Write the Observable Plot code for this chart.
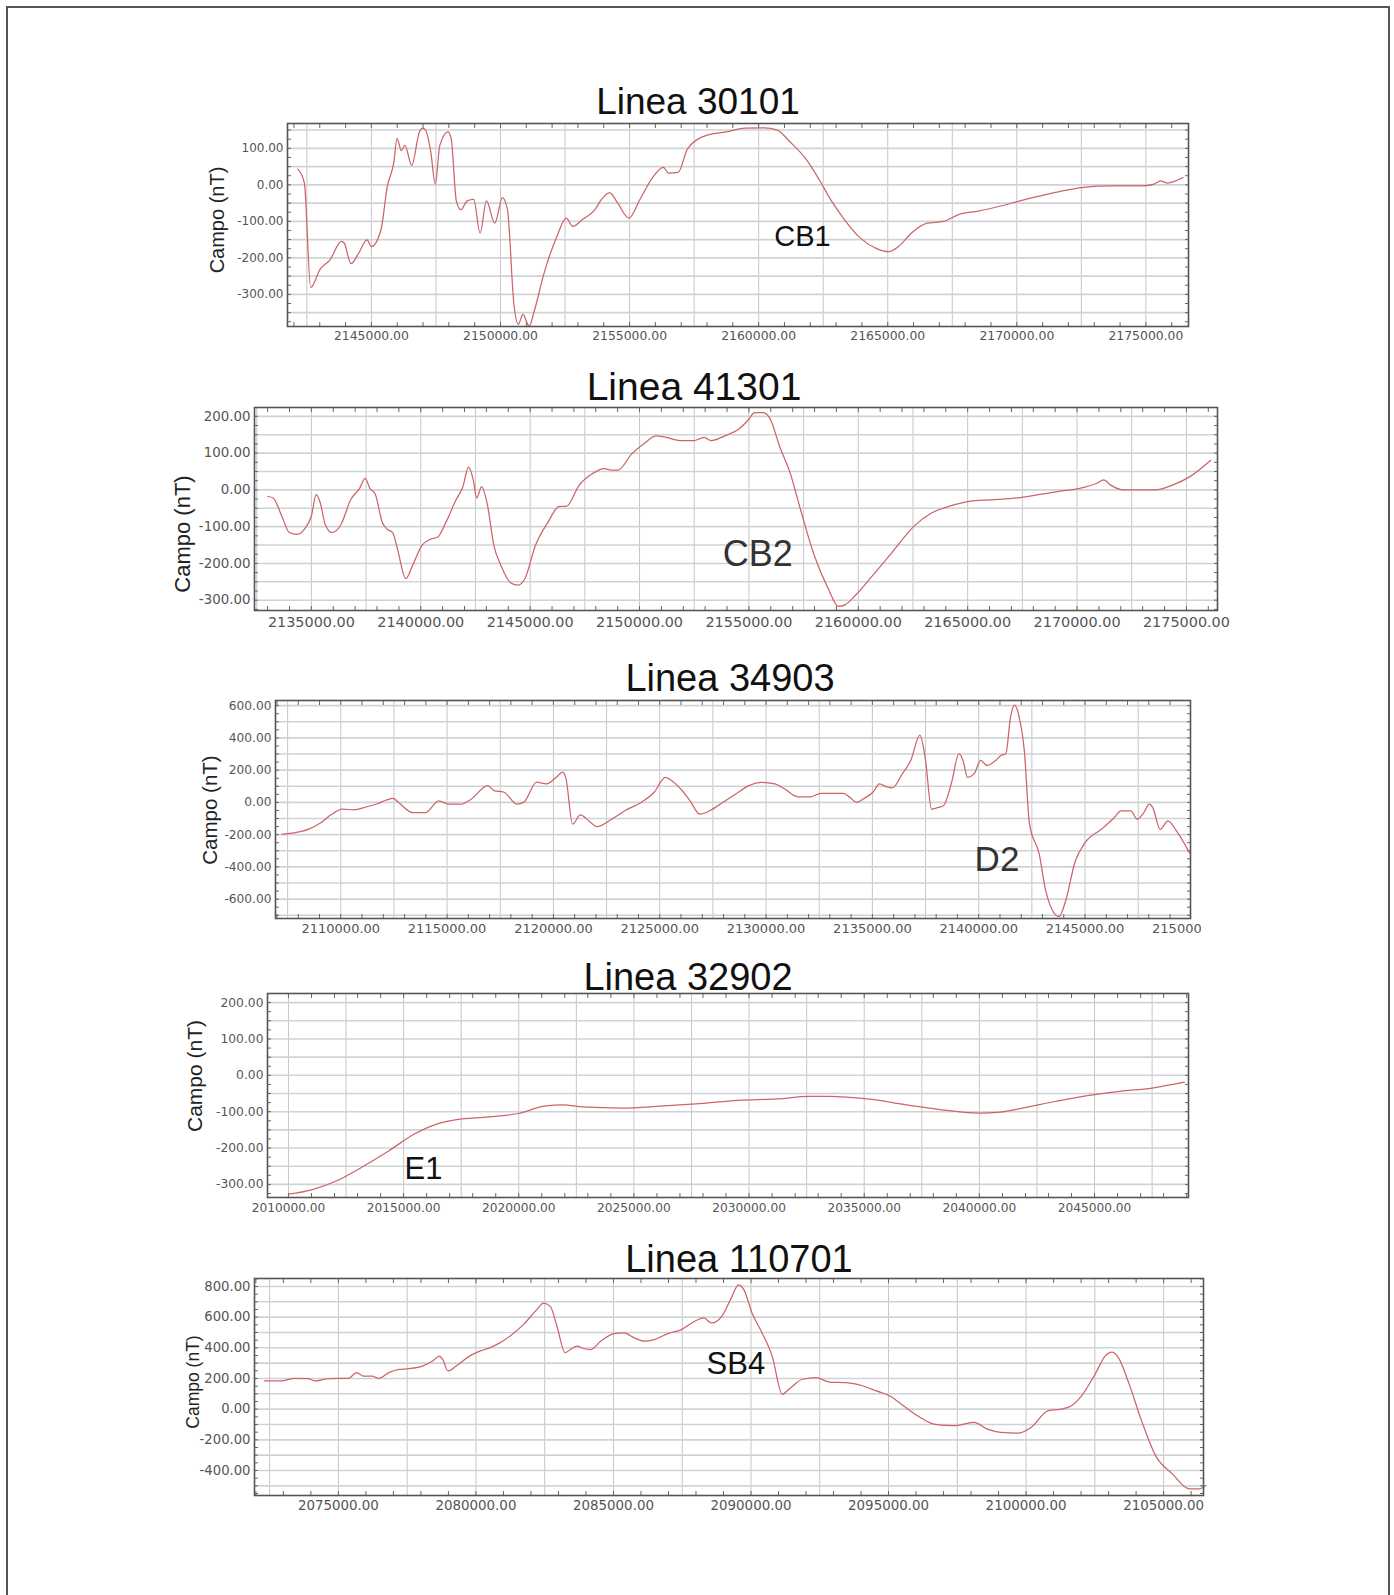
<!DOCTYPE html>
<html><head><meta charset="utf-8">
<script src="https://cdn.jsdelivr.net/npm/d3@7"></script>
<script src="https://cdn.jsdelivr.net/npm/@observablehq/plot@0.6"></script>
<style>
body{margin:0;background:#fff;font-family:"Liberation Sans",Arial,sans-serif;}
#page{position:relative;width:1394px;height:1595px;overflow:hidden;background:#fff;}
#border{position:absolute;left:6px;top:6px;width:1380px;height:1650px;border:2px solid #555;}
.title{position:absolute;transform:translate(-50%,-50%);color:#111;white-space:nowrap;font-family:"Liberation Sans",Arial,sans-serif;}
.ylab{position:absolute;transform:translate(-50%,-50%) rotate(-90deg);white-space:nowrap;color:#222;font-family:"Liberation Sans",Arial,sans-serif;}
</style></head><body><div id="page"><div id="border"></div></div>
<script>
// ---- Data (easting, field nT) ----
const line30101 = [[2142150,43],[2142400,6],[2142650,-281],[2143020,-230],[2143390,-206],[2143840,-155],[2143950,-160],[2144210,-216],[2144500,-188],[2144830,-151],[2145000,-169],[2145370,-123],[2145620,-3],[2145870,62],[2145990,127],[2146160,94],[2146300,108],[2146560,53],[2146860,145],[2146980,155],[2147100,150],[2147300,90],[2147475,2],[2147650,108],[2147970,145],[2148090,127],[2148290,-44],[2148465,-68],[2148710,-44],[2148960,-40],[2149210,-132],[2149455,-44],[2149780,-105],[2150075,-35],[2150270,-68],[2150520,-327],[2150690,-382],[2150870,-355],[2151110,-387],[2151310,-345],[2151680,-244],[2152180,-142],[2152550,-91],[2152800,-114],[2153170,-95],[2153660,-68],[2153910,-40],[2154230,-21],[2154530,-49],[2154975,-91],[2155400,-40],[2155890,20],[2156310,48],[2156510,32],[2156880,34],[2157250,99],[2158000,136],[2158740,145],[2159480,155],[2160220,156],[2160720,150],[2161210,118],[2161830,71],[2162330,16],[2162820,-44],[2163320,-95],[2163940,-146],[2164550,-174],[2165050,-183],[2165420,-169],[2165920,-132],[2166530,-105],[2167150,-100],[2167770,-81],[2168510,-72],[2169380,-58],[2170120,-44],[2170870,-31],[2171730,-17],[2172600,-7],[2173590,-3],[2174830,-3],[2175320,2],[2175570,11],[2175820,5],[2176440,20]];

const line41301 = [[2133016,-18],[2133250,-22],[2133646,-71],[2133992,-116],[2134370,-121],[2134685,-107],[2135000,-71],[2135220,-13],[2135410,-36],[2135630,-94],[2135945,-116],[2136354,-94],[2136795,-27],[2137205,4],[2137457,31],[2137677,4],[2137929,-13],[2138244,-89],[2138465,-107],[2138716,-116],[2138937,-161],[2139315,-241],[2139630,-205],[2140039,-152],[2140449,-134],[2140764,-129],[2141142,-89],[2141614,-27],[2141929,9],[2142181,62],[2142400,27],[2142559,-22],[2142780,9],[2143031,-36],[2143346,-152],[2143661,-205],[2144134,-254],[2144449,-259],[2144764,-241],[2145236,-152],[2145803,-89],[2146339,-45],[2146654,-45],[2147244,13],[2147874,45],[2148386,58],[2148700,54],[2149016,54],[2149646,98],[2150276,129],[2150748,147],[2151220,143],[2151850,134],[2152480,134],[2152953,143],[2153268,134],[2153898,147],[2154528,165],[2155000,192],[2155252,210],[2155630,210],[2155945,196],[2156417,116],[2156890,45],[2157362,-54],[2157992,-179],[2158622,-268],[2159094,-317],[2159409,-312],[2159882,-286],[2160669,-232],[2161614,-165],[2162559,-98],[2163346,-63],[2164134,-45],[2165079,-31],[2166024,-27],[2167283,-22],[2168228,-13],[2169173,-4],[2170118,4],[2170906,18],[2171220,27],[2171535,13],[2172165,0],[2173583,0],[2174370,13],[2175157,36],[2176102,80]];

const line34903 = [[2107237,-198],[2107851,-188],[2108465,-167],[2109079,-125],[2109539,-77],[2110092,-42],[2110614,-46],[2111228,-27],[2111689,-10],[2112149,15],[2112456,25],[2112763,-6],[2113377,-63],[2113991,-63],[2114605,10],[2115066,-10],[2115680,-10],[2116141,21],[2116908,104],[2117215,73],[2117676,63],[2118290,-10],[2118597,0],[2119211,125],[2119672,115],[2120132,156],[2120439,188],[2120593,146],[2120900,-135],[2121268,-77],[2121667,-115],[2122066,-150],[2122742,-104],[2123356,-52],[2124124,0],[2124738,63],[2125260,156],[2125659,125],[2126119,63],[2126426,10],[2126887,-73],[2127348,-52],[2127962,0],[2128576,52],[2129190,104],[2129804,125],[2130418,115],[2130878,83],[2131492,35],[2132106,35],[2132567,56],[2133181,56],[2133641,56],[2133949,31],[2134256,0],[2134563,21],[2135024,63],[2135331,115],[2135638,98],[2135944,90],[2136405,177],[2136804,260],[2137234,417],[2137480,281],[2137786,-42],[2138093,-31],[2138339,-21],[2138708,115],[2139076,302],[2139260,260],[2139475,156],[2139782,177],[2140089,260],[2140396,229],[2140795,260],[2141059,292],[2141274,302],[2141500,531],[2141684,604],[2141899,531],[2142144,323],[2142390,-135],[2142850,-323],[2143158,-552],[2143772,-708],[2144079,-615],[2144539,-365],[2145000,-250],[2145768,-167],[2146382,-94],[2146689,-52],[2147150,-52],[2147458,-104],[2147765,-63],[2148026,-10],[2148180,-31],[2148533,-167],[2148901,-115],[2149300,-177],[2149914,-313]];

const line32902 = [[2010000,-327],[2011000,-315],[2012100,-290],[2013200,-252],[2014350,-208],[2015500,-160],[2016500,-133],[2017300,-122],[2018550,-115],[2019970,-105],[2021100,-85],[2021940,-81],[2022780,-87],[2024470,-90],[2026150,-85],[2027840,-78],[2029520,-69],[2031210,-65],[2032610,-58],[2033460,-58],[2035140,-65],[2036830,-81],[2038510,-96],[2040000,-104],[2040900,-101],[2041880,-90],[2043290,-72],[2044690,-56],[2046100,-44],[2047500,-35],[2048900,-19]];

const line110701 = [[2072311,184],[2072920,184],[2073411,201],[2073900,199],[2074145,184],[2074633,199],[2075367,201],[2075660,238],[2075905,216],[2076222,216],[2076467,201],[2076834,238],[2077200,259],[2077567,264],[2078056,281],[2078423,314],[2078667,346],[2078790,324],[2078985,249],[2079279,281],[2079768,346],[2080134,378],[2080501,400],[2080868,432],[2081235,476],[2081724,551],[2082213,649],[2082457,692],[2082702,670],[2082946,541],[2083240,368],[2083435,389],[2083680,411],[2083924,394],[2084169,389],[2084535,443],[2085024,493],[2085391,497],[2085758,465],[2086125,443],[2086491,454],[2086980,493],[2087469,519],[2087958,573],[2088276,595],[2088570,562],[2088936,605],[2089254,714],[2089548,811],[2089743,778],[2090037,627],[2090403,497],[2090770,346],[2091137,97],[2091381,130],[2091870,195],[2092359,205],[2092848,177],[2093460,173],[2094071,151],[2094560,119],[2095049,86],[2095538,22],[2096149,-54],[2096638,-97],[2097372,-108],[2098105,-86],[2098594,-130],[2099083,-151],[2099694,-156],[2100183,-119],[2100795,-11],[2101284,0],[2101650,22],[2102017,86],[2102506,227],[2102873,346],[2103117,372],[2103362,335],[2103729,173],[2104218,-86],[2104707,-303],[2105318,-422],[2105929,-519],[2106296,-519],[2106540,-497]];

// ---- Tick labels ----
const xTicks30101 = [2145000,2150000,2155000,2160000,2165000,2170000,2175000];
const yTicks30101 = [-300,-200,-100,0,100];
const xTicks41301 = [2135000,2140000,2145000,2150000,2155000,2160000,2165000,2170000,2175000];
const yTicks41301 = [-300,-200,-100,0,100,200];
const xTicks34903 = [2110000,2115000,2120000,2125000,2130000,2135000,2140000,2145000,2150000];
const yTicks34903 = [-600,-400,-200,0,200,400,600];
const xTicks32902 = [2010000,2015000,2020000,2025000,2030000,2035000,2040000,2045000];
const yTicks32902 = [-300,-200,-100,0,100,200];
const xTicks110701 = [2075000,2080000,2085000,2090000,2095000,2100000,2105000];
const yTicks110701 = [-400,-200,0,200,400,600,800];

// ---- Titles / annotations ----
const titles = ["Linea 30101","Linea 41301","Linea 34903","Linea 32902","Linea 110701"];
const annotations = [
  {x:2161700, y:-142, t:"CB1"},
  {x:2155400, y:-176, t:"CB2"},
  {x:2140860, y:-356, t:"D2"},
  {x:2015860, y:-258, t:"E1"},
  {x:2089450, y:294, t:"SB4"}
];
const yLabel = "Campo (nT)";

// ---- Layout (pixel positions of each panel) ----
const panels = [
  {data:line30101, xt:xTicks30101, yt:yTicks30101, xd:[2141750,2176650], yd:[-388,168], xs:2500, ys:50, ym:25,
   fl:287, fr:1188, ft:123, fb:326, tx:698, ty:102, tfs:37, lx:217, ly:220, lfs:20, xfs:12.4, yfs:12, xpad:5, afs:29, afill:"#111", mR:40},
  {data:line41301, xt:xTicks41301, yt:yTicks41301, xd:[2132400,2176420], yd:[-328,224], xs:2500, ys:50, ym:25,
   fl:254, fr:1217, ft:407, fb:610, tx:694, ty:387, tfs:39, lx:183, ly:534, lfs:22, xfs:14.4, yfs:13.4, xpad:6, afs:36, afill:"#333", mR:40},
  {data:line34903, xt:xTicks34903, yt:yTicks34903, xd:[2106930,2149960], yd:[-720,632], xs:2500, ys:100, ym:50,
   fl:275, fr:1190, ft:700, fb:918, tx:730, ty:678, tfs:38, lx:210, ly:810, lfs:20.5, xfs:13, yfs:12.2, xpad:5, afs:35, afill:"#333", mR:11},
  {data:line32902, xt:xTicks32902, yt:yTicks32902, xd:[2009090,2049080], yd:[-336,225], xs:2500, ys:50, ym:25,
   fl:267, fr:1188, ft:993, fb:1197, tx:688, ty:977, tfs:38, lx:195, ly:1076, lfs:21, xfs:12.2, yfs:12.3, xpad:6, afs:31, afill:"#111", mR:40},
  {data:line110701, xt:xTicks110701, yt:yTicks110701, xd:[2071950,2106450], yd:[-563,852], xs:2500, ys:100, ym:50,
   fl:254, fr:1203, ft:1278, fb:1495, tx:739, ty:1259, tfs:38, lx:193, ly:1382, lfs:17.5, xfs:13.4, yfs:13.2, xpad:5, afs:31, afill:"#111", mR:40}
];

const page = document.getElementById("page");
const fmt = d => d.toFixed(2);

panels.forEach((p, i) => {
  const mL = 100, mT = 6, mB = 40;
  const width = p.fr - p.fl + mL + p.mR;
  const height = p.fb - p.ft + mT + mB;
  const pts = p.data.map(([x, y]) => ({x, y}));
  const xGrid = d3.range(Math.ceil(p.xd[0]/p.xs)*p.xs, p.xd[1], p.xs);
  const yGrid = d3.range(Math.ceil(p.yd[0]/p.ys)*p.ys, p.yd[1], p.ys);
  const xMinor = d3.range(Math.ceil(p.xd[0]/1000)*1000, p.xd[1], 1000);
  const yMinor = d3.range(Math.ceil(p.yd[0]/p.ym)*p.ym, p.yd[1], p.ym);
  const chart = Plot.plot({
    width, height, marginLeft: mL, marginRight: p.mR, marginTop: mT, marginBottom: mB,
    style: {fontFamily: "DejaVu Sans, Liberation Sans, Arial, sans-serif", background: "transparent", overflow: "hidden"},
    x: {domain: p.xd},
    y: {domain: p.yd},
    marks: [
      Plot.gridX(xGrid, {stroke: "#c6c6c6", strokeOpacity: 1, strokeWidth: 1}),
      Plot.gridY(yGrid, {stroke: "#cfd3d6", strokeOpacity: 1, strokeWidth: 1.6}),
      Plot.axisX(xMinor, {anchor: "top", tickSize: -4, tickFormat: () => "", label: null, stroke: "#666"}),
      Plot.axisX(xMinor, {anchor: "bottom", tickSize: -4, tickFormat: () => "", label: null, stroke: "#666"}),
      Plot.axisY(yMinor, {anchor: "left", tickSize: -4, tickFormat: () => "", label: null, stroke: "#666"}),
      Plot.axisY(yMinor, {anchor: "right", tickSize: -4, tickFormat: () => "", label: null, stroke: "#666"}),
      Plot.axisX(p.xt, {anchor: "bottom", tickSize: 0, tickPadding: p.xpad, fontSize: p.xfs, fill: "#555", tickFormat: fmt, label: null}),
      Plot.axisY(p.yt, {anchor: "left", tickSize: 0, tickPadding: 4, fontSize: p.yfs, fill: "#555", tickFormat: fmt, label: null}),
      Plot.line(pts, {x: "x", y: "y", stroke: "#cc6468", strokeWidth: 1.25, curve: "monotone-x"}),
      Plot.frame({stroke: "#555", strokeWidth: 1.6}),
      Plot.text([annotations[i]], {x: "x", y: "y", text: "t", fontSize: p.afs, fill: p.afill, fontFamily: "Liberation Sans, Arial, sans-serif"})
    ]
  });
  chart.style.position = "absolute";
  chart.style.left = (p.fl - mL) + "px";
  chart.style.top = (p.ft - mT) + "px";
  page.append(chart);

  const t = document.createElement("div");
  t.className = "title";
  t.textContent = titles[i];
  t.style.left = p.tx + "px"; t.style.top = p.ty + "px"; t.style.fontSize = p.tfs + "px";
  page.append(t);

  const yl = document.createElement("div");
  yl.className = "ylab";
  yl.textContent = yLabel;
  yl.style.left = p.lx + "px"; yl.style.top = p.ly + "px"; yl.style.fontSize = p.lfs + "px";
  page.append(yl);
});
</script>
</body></html>
